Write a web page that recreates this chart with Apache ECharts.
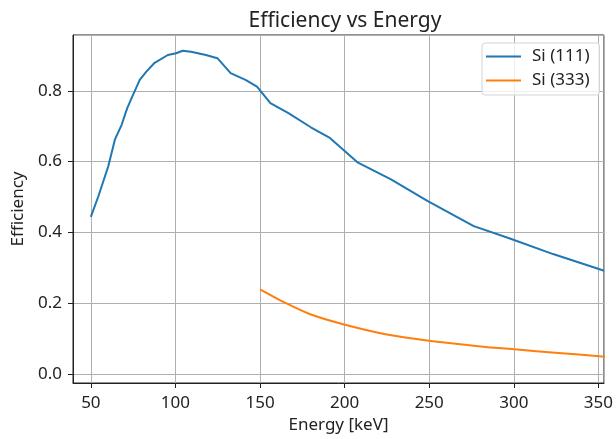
<!DOCTYPE html>
<html><head><meta charset="utf-8">
<script src="https://cdn.jsdelivr.net/npm/echarts@6/dist/echarts.min.js"></script>
<style>html,body{margin:0;padding:0;background:#fff}#c{width:616px;height:439px}</style>
</head><body><div id="c"></div>
<script>
const si111Energy = [50, 54.5, 60.3, 64.2, 68.2, 71.5, 75.0, 78.9, 82.8, 87.7, 95.5, 100.4, 104.3, 109.2, 118.0, 124.8, 132.6, 141.4, 148.2, 156.1, 166.8, 180.0, 191.3, 207.9, 227.4, 248.9, 276.3, 297.7, 323.2, 353.4];
const si111Eff = [0.444, 0.503, 0.587, 0.662, 0.704, 0.751, 0.789, 0.831, 0.854, 0.879, 0.901, 0.906, 0.913, 0.910, 0.901, 0.892, 0.850, 0.831, 0.812, 0.765, 0.737, 0.697, 0.667, 0.597, 0.550, 0.489, 0.418, 0.383, 0.339, 0.292];
const si333Energy = [150, 162.5, 179.7, 199.1, 225, 248.7, 278.9, 300.4, 326.3, 354.3];
const si333Eff = [0.239, 0.207, 0.169, 0.141, 0.112, 0.095, 0.079, 0.070, 0.060, 0.049];
const seriesNames = ['Si (111)', 'Si (333)'];

const font = 'Noto Sans';
const txt = '#222';
const chart = echarts.init(document.getElementById('c'), null, {renderer: 'canvas'});
const pairs = (xs, ys) => xs.map((x, i) => [x, ys[i]]);
chart.setOption({
  animation: false,
  backgroundColor: '#fff',
  textStyle: {fontFamily: font},
  title: {text: 'Efficiency vs Energy', left: 340, top: 6, textAlign: 'center',
    textStyle: {fontFamily: font, fontSize: 21, fontWeight: 'normal', color: txt}},
  grid: {left: 73, top: 35, right: 8, bottom: 55, show: true, borderColor: '#222', borderWidth: 1, containLabel: false},
  legend: {
    data: seriesNames, orient: 'vertical', left: 482, top: 43,
    itemWidth: 35, itemHeight: 2, itemGap: 7, icon: 'rect',
    backgroundColor: 'rgba(255,255,255,0.8)', borderColor: '#d5d5d5', borderWidth: 1, borderRadius: 3,
    padding: [5, 10, 6, 4],
    textStyle: {fontFamily: font, fontSize: 17, color: txt, padding: [0, 0, 0, 6]}
  },
  xAxis: {
    type: 'value', min: 39.45, max: 353.3, splitNumber: 6,
    name: 'Energy [keV]', nameLocation: 'middle', nameGap: 34,
    nameTextStyle: {fontFamily: font, fontSize: 17, color: txt},
    axisLine: {show: true, onZero: false, lineStyle: {color: '#222'}},
    axisTick: {show: true, length: 5, lineStyle: {color: '#222'}},
    axisLabel: {fontFamily: font, fontSize: 17, color: txt, margin: 12, showMinLabel: false, showMaxLabel: false},
    splitLine: {show: true, lineStyle: {color: '#b0b0b0', width: 1}}
  },
  yAxis: {
    type: 'value', min: -0.025, max: 0.9575, splitNumber: 5,
    name: 'Efficiency', nameLocation: 'middle', nameGap: 44, nameRotate: 90,
    nameTextStyle: {fontFamily: font, fontSize: 17, color: txt},
    axisLine: {show: true, onZero: false, lineStyle: {color: '#222'}},
    axisTick: {show: true, length: 5, lineStyle: {color: '#222'}},
    axisLabel: {fontFamily: font, fontSize: 17, color: txt, margin: 11, showMinLabel: false, showMaxLabel: false,
      formatter: v => v.toFixed(1)},
    splitLine: {show: true, lineStyle: {color: '#b0b0b0', width: 1}}
  },
  series: [
    {name: seriesNames[0], type: 'line', data: pairs(si111Energy, si111Eff), showSymbol: false, symbol: 'none',
      lineStyle: {color: '#1f77b4', width: 2}, itemStyle: {color: '#1f77b4'}},
    {name: seriesNames[1], type: 'line', data: pairs(si333Energy, si333Eff), showSymbol: false, symbol: 'none', smooth: 0.3,
      lineStyle: {color: '#ff7f0e', width: 2}, itemStyle: {color: '#ff7f0e'}}
  ]
});
</script></body></html>
